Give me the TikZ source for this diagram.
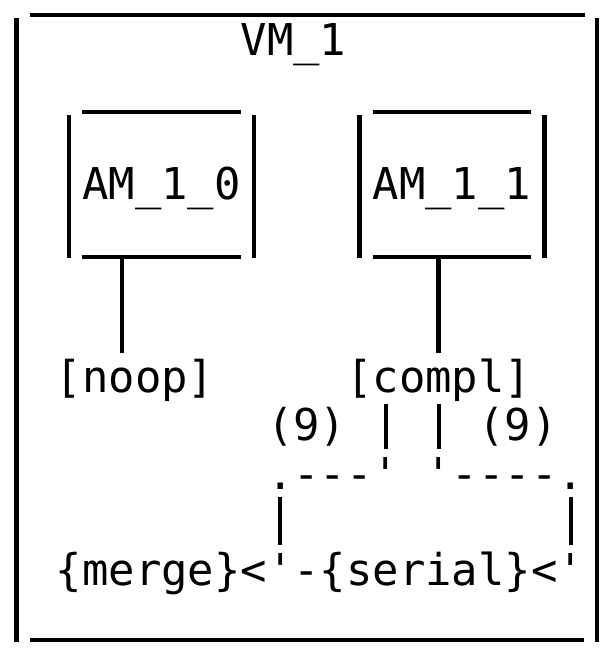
\documentclass[tikz,border=0pt]{standalone}
\usepackage{fontspec}
\setmonofont{DejaVu Sans Mono}
\begin{document}
\begin{tikzpicture}[x=0.75pt,y=-0.75pt,
  ascii/.style={anchor=base west, inner sep=0pt, outer sep=0pt,
    font=\ttfamily\fontsize{32.89}{40}\selectfont, text=black},
  boxline/.style={line width=3.4pt, draw=black, line cap=butt},
  glyphline/.style={line width=3.1pt, draw=black, line cap=butt}]
\useasboundingbox[fill=white] (0,0) rectangle (609,650);

% outer container VM_1
\draw[boxline] (29.5,15) -- (584.5,15);
\draw[boxline] (30,640) -- (584,640);
\draw[boxline] (16.3,18) -- (16.3,642);
\draw[boxline] (597.1,18) -- (597.1,642);
\node[ascii] (vm) at (240.7,55.3) {VM\_1};

% box AM_1_0
\draw[boxline] (82.3,112) -- (240.7,112);
\draw[boxline] (82.3,257) -- (240.7,257);
\draw[boxline] (69.1,115) -- (69.1,258);
\draw[boxline] (253.9,115) -- (253.9,258);
\node[ascii] (am0) at (82.3,199.9) {AM\_1\_0};

% box AM_1_1
\draw[boxline] (372.7,112) -- (531.1,112);
\draw[boxline] (372.7,257) -- (531.1,257);
\draw[boxline] (359.5,115) -- (359.5,258);
\draw[boxline] (544.3,115) -- (544.3,258);
\node[ascii] (am1) at (372.7,199.9) {AM\_1\_1};

% labels
\node[ascii] (noop) at (55.9,392.7) {[noop]};
\node[ascii] (compl) at (346.3,392.7) {[compl]};

% stems from boxes to labels
\coordinate (am0b) at (121.9,258);
\coordinate (noopt) at (121.9,353);
\coordinate (am1b) at (438.7,258);
\coordinate (complt) at (438.7,353);
\draw[boxline] (am0b) -- (noopt);
\draw[boxline] (am1b) -- (complt);

% lower connectors
\node[ascii] (nineL) at (267.1,440.9) {(9)};
\node[ascii] (nineR) at (478.3,440.9) {(9)};
\coordinate (c14a) at (385.9,403.5);
\coordinate (c14b) at (385.9,448.5);
\coordinate (c16a) at (438.7,403.5);
\coordinate (c16b) at (438.7,448.5);
\draw[glyphline] (c14a) -- (c14b);
\draw[glyphline] (c16a) -- (c16b);
\node[ascii] (dashL) at (267.1,489.1) {.---'};
\node[ascii] (dashR) at (425.5,489.1) {'----.};
\coordinate (c10a) at (280.3,497);
\coordinate (c10b) at (280.3,545);
\coordinate (c21a) at (570.7,497);
\coordinate (c21b) at (570.7,545);
\draw[glyphline] (c10a) -- (c10b);
\draw[glyphline] (c21a) -- (c21b);
\node[ascii] (merge) at (55.9,585.5) {\{merge\}<'-\{serial\}<'};
\end{tikzpicture}
\end{document}
